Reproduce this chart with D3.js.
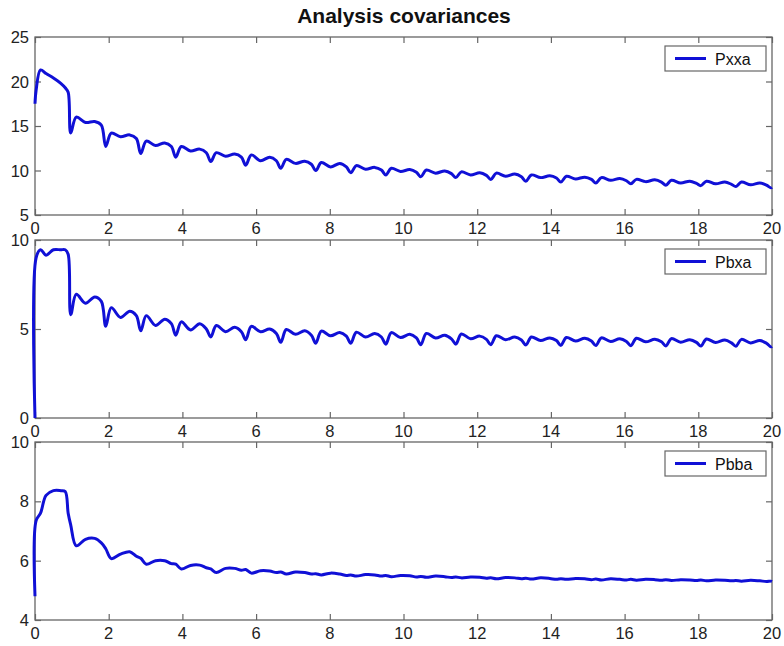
<!doctype html>
<html>
<head>
<script src="https://d3js.org/d3.v7.min.js"></script>
<style>
body { margin: 0; background: #fff; }
</style>
</head>
<body>
<script type="text/javascript">
var width = 784;
var height = 646;

// sample times (s), shared by the three curves
var time = [0, 0.03, 0.15, 0.3, 0.5, 0.7, 0.82, 0.9,
  0.97, 1.12, 1.37, 1.62, 1.80,
  1.92, 2.07, 2.32, 2.57, 2.75,
  2.87, 3.02, 3.27, 3.52, 3.70,
  3.82, 3.97, 4.22, 4.47, 4.65,
  4.77, 4.92, 5.17, 5.42, 5.60,
  5.72, 5.87, 6.12, 6.37, 6.55,
  6.67, 6.82, 7.07, 7.32, 7.50,
  7.62, 7.77, 8.02, 8.27, 8.45,
  8.57, 8.72, 8.97, 9.22, 9.40,
  9.52, 9.67, 9.92, 10.17, 10.35,
  10.47, 10.62, 10.87, 11.12, 11.30,
  11.42, 11.57, 11.82, 12.07, 12.25,
  12.37, 12.52, 12.77, 13.02, 13.20,
  13.32, 13.47, 13.72, 13.97, 14.15,
  14.27, 14.42, 14.67, 14.92, 15.10,
  15.22, 15.37, 15.62, 15.87, 16.05,
  16.17, 16.32, 16.57, 16.82, 17.00,
  17.12, 17.27, 17.52, 17.77, 17.95,
  18.07, 18.22, 18.47, 18.72, 18.90,
  19.02, 19.17, 19.42, 19.67, 19.85,
  19.97, 20.0];

var pxxa = [17.5, 19.0, 21.3, 20.9, 20.4, 19.8, 19.3, 18.8,
  14.2, 16.0, 15.4, 15.5, 15.1,
  12.7, 14.2, 13.8, 14.0, 13.6,
  11.9, 13.3, 12.8, 13.1, 12.7,
  11.5, 12.7, 12.2, 12.4, 12.0,
  11.0, 12.0, 11.6, 11.85, 11.5,
  10.6, 11.75, 11.1, 11.5, 11.1,
  10.25, 11.25, 10.8, 11.05, 10.7,
  10.0, 10.9, 10.4, 10.8, 10.4,
  9.75, 10.55, 10.15, 10.35, 10.05,
  9.5, 10.25, 9.9, 10.1, 9.8,
  9.3, 10.05, 9.7, 9.95, 9.65,
  9.2, 9.85, 9.5, 9.75, 9.45,
  9.0, 9.7, 9.35, 9.6, 9.3,
  8.8, 9.5, 9.2, 9.4, 9.15,
  8.7, 9.35, 9.05, 9.25, 9.0,
  8.6, 9.2, 8.9, 9.1, 8.85,
  8.5, 9.0, 8.75, 8.95, 8.7,
  8.35, 8.9, 8.6, 8.8, 8.55,
  8.3, 8.8, 8.5, 8.7, 8.45,
  8.2, 8.7, 8.4, 8.6, 8.35,
  8.05, 8.1];

var pbxa = [0.0, 9.0, 9.45, 9.15, 9.45, 9.45, 9.45, 9.2,
  5.8, 6.95, 6.45, 6.8, 6.55,
  5.15, 6.2, 5.65, 6.0, 5.75,
  4.9, 5.75, 5.2, 5.55, 5.3,
  4.65, 5.4, 4.95, 5.3, 5.0,
  4.55, 5.2, 4.85, 5.1, 4.85,
  4.4, 5.15, 4.85, 5.0, 4.75,
  4.25, 4.97, 4.7, 4.9, 4.65,
  4.2, 4.88, 4.62, 4.8, 4.6,
  4.2, 4.82, 4.55, 4.75, 4.55,
  4.15, 4.8, 4.52, 4.7, 4.5,
  4.12, 4.75, 4.5, 4.65, 4.45,
  4.15, 4.72, 4.45, 4.6, 4.42,
  4.12, 4.62, 4.4, 4.55, 4.38,
  4.1, 4.55, 4.35, 4.5, 4.35,
  4.08, 4.52, 4.33, 4.48, 4.32,
  4.07, 4.5, 4.3, 4.45, 4.3,
  4.06, 4.48, 4.28, 4.42, 4.28,
  4.05, 4.46, 4.26, 4.4, 4.25,
  4.04, 4.44, 4.24, 4.38, 4.22,
  4.03, 4.42, 4.22, 4.35, 4.2,
  4.0, 4.02];

var pbba = [4.8, 7.35, 7.6, 8.2, 8.36, 8.36, 8.33, 7.6,
  7.2, 6.5, 6.72, 6.75, 6.6,
  6.4, 6.07, 6.22, 6.3, 6.15,
  6.08, 5.88, 6.0, 6.0, 5.9,
  5.88, 5.72, 5.84, 5.85, 5.76,
  5.72, 5.6, 5.74, 5.74, 5.68,
  5.7, 5.58, 5.66, 5.65, 5.6,
  5.62, 5.55, 5.62, 5.6, 5.55,
  5.56, 5.52, 5.58, 5.55, 5.5,
  5.52, 5.48, 5.53, 5.52, 5.48,
  5.5, 5.46, 5.5, 5.49, 5.45,
  5.47, 5.44, 5.48, 5.46, 5.43,
  5.45, 5.42, 5.45, 5.44, 5.41,
  5.42, 5.39, 5.43, 5.42, 5.39,
  5.41, 5.38, 5.42, 5.4, 5.37,
  5.39, 5.37, 5.4, 5.39, 5.36,
  5.38, 5.35, 5.39, 5.37, 5.35,
  5.37, 5.34, 5.37, 5.36, 5.34,
  5.36, 5.33, 5.36, 5.35, 5.33,
  5.35, 5.32, 5.35, 5.34, 5.32,
  5.33, 5.31, 5.34, 5.32, 5.3,
  5.31, 5.3];

var xTicks = [0, 2, 4, 6, 8, 10, 12, 14, 16, 18, 20];
var names = ["Pxxa", "Pbxa", "Pbba"];
var yDomains = [[5, 25], [0, 10], [4, 10]];
var yTicks = [[5, 10, 15, 20, 25], [0, 5, 10], [4, 6, 8, 10]];
var series = [pxxa, pbxa, pbba];

var left = 35, right = 772;
var panelTops = [37, 240, 442];
var panelH = 178;
var tickLen = 6;
var axisColor = "#666";
var lineColor = "#1010d6";

var svg = d3.select("body").append("svg")
  .attr("width", width)
  .attr("height", height)
  .style("font-family", "'Liberation Sans', Arial, sans-serif");

svg.append("text")
  .attr("x", 404)
  .attr("y", 23)
  .attr("text-anchor", "middle")
  .attr("font-size", 21)
  .attr("font-weight", "bold")
  .attr("fill", "#111")
  .text("Analysis covariances");

var x = d3.scaleLinear().domain([0, 20]).range([left, right]);

series.forEach(function (values, i) { drawPanel(values, i); });

function drawPanel(values, i) {
  var pTop = panelTops[i], pBottom = pTop + panelH;
  var y = d3.scaleLinear().domain(yDomains[i]).range([pBottom, pTop]);
  var g = svg.append("g");

  // plot box
  g.append("rect")
    .attr("x", left).attr("y", pTop)
    .attr("width", right - left).attr("height", panelH)
    .attr("fill", "none").attr("stroke", axisColor).attr("stroke-width", 1.3);

  // inward ticks on all four sides (MATLAB style)
  g.append("g").attr("transform", "translate(0," + pBottom + ")")
    .call(d3.axisBottom(x).tickValues(xTicks).tickSize(-tickLen).tickFormat(""))
    .call(styleAxis);
  g.append("g").attr("transform", "translate(0," + pTop + ")")
    .call(d3.axisTop(x).tickValues(xTicks).tickSize(-tickLen).tickFormat(""))
    .call(styleAxis);
  g.append("g").attr("transform", "translate(" + left + ",0)")
    .call(d3.axisLeft(y).tickValues(yTicks[i]).tickSize(-tickLen).tickFormat(""))
    .call(styleAxis);
  g.append("g").attr("transform", "translate(" + right + ",0)")
    .call(d3.axisRight(y).tickValues(yTicks[i]).tickSize(-tickLen).tickFormat(""))
    .call(styleAxis);

  // tick labels
  g.selectAll(".xl").data(xTicks).enter().append("text")
    .attr("x", function (d) { return x(d); })
    .attr("y", pBottom + 19)
    .attr("text-anchor", "middle")
    .attr("font-size", 16.5)
    .attr("fill", "#222")
    .text(function (d) { return d; });
  g.selectAll(".yl").data(yTicks[i]).enter().append("text")
    .attr("x", 29)
    .attr("y", function (d) { return y(d) + 6; })
    .attr("text-anchor", "end")
    .attr("font-size", 16.5)
    .attr("fill", "#222")
    .text(function (d) { return d; });

  // the curve
  var line = d3.line()
    .x(function (d, j) { return x(time[j]); })
    .y(function (d) { return y(d); })
    .curve(d3.curveCatmullRom.alpha(0.5));
  g.append("path")
    .datum(values)
    .attr("d", line)
    .attr("fill", "none")
    .attr("stroke", lineColor)
    .attr("stroke-width", 3)
    .attr("stroke-linejoin", "round");

  // legend
  var lg = g.append("g").attr("transform", "translate(665," + (pTop + 9) + ")");
  lg.append("rect")
    .attr("width", 101).attr("height", 25)
    .attr("fill", "#fff").attr("stroke", axisColor).attr("stroke-width", 1.2);
  lg.append("line")
    .attr("x1", 10).attr("x2", 41).attr("y1", 12.5).attr("y2", 12.5)
    .attr("stroke", lineColor).attr("stroke-width", 3);
  lg.append("text")
    .attr("x", 50).attr("y", 18.5)
    .attr("font-size", 16)
    .attr("fill", "#111")
    .text(names[i]);
}

function styleAxis(sel) {
  sel.select(".domain").remove();
  sel.selectAll(".tick line").attr("stroke", axisColor).attr("stroke-width", 1.2);
}
</script>
</body>
</html>
